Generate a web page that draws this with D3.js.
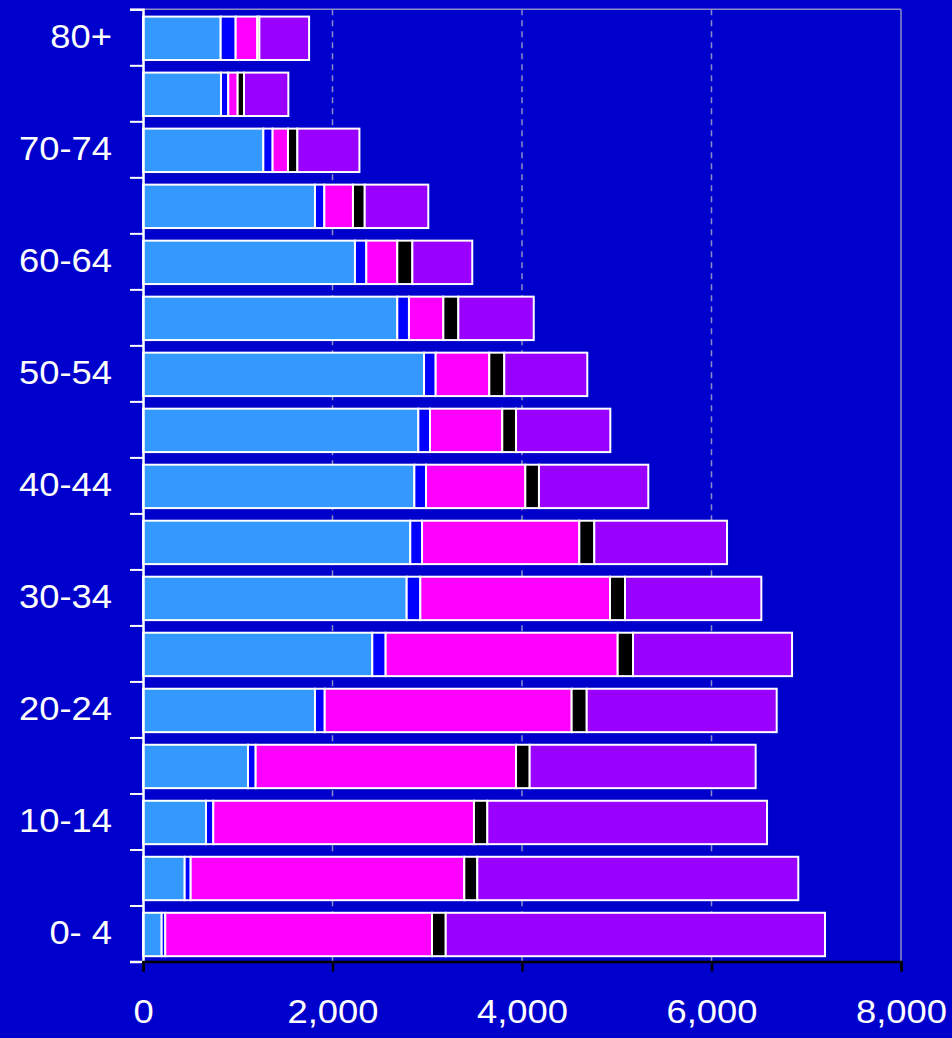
<!DOCTYPE html>
<html>
<head>
<meta charset="utf-8">
<script src="https://cdn.jsdelivr.net/npm/d3@7"></script>
<style>
  html, body { margin: 0; padding: 0; background: #0000CC; }
  svg { display: block; }
</style>
</head>
<body>
<svg id="chart" width="952" height="1038"></svg>
<script>
// Age groups, bottom to top
const categories = ["0- 4","5-9","10-14","15-19","20-24","25-29","30-34","35-39","40-44","45-49","50-54","55-59","60-64","65-69","70-74","75-79","80+"];
// Series (stack order left to right)
const seriesNames = ["Series A","Series B","Series C","Series D","Series E"];
const seriesA = [197, 440, 665, 1108, 1815, 2420, 2783, 2821, 2864, 2906, 2966, 2684, 2237, 1815, 1270, 823, 820];
const seriesB = [38, 63, 77, 81, 103, 141, 144, 124, 123, 123, 123, 123, 120, 99, 98, 77, 158];
const seriesC = [2815, 2888, 2751, 2748, 2606, 2449, 2002, 1660, 1048, 763, 566, 363, 327, 302, 162, 99, 228];
const seriesD = [145, 137, 141, 144, 159, 162, 158, 158, 144, 145, 158, 158, 159, 124, 99, 67, 22];
const seriesE = [4003, 3388, 2952, 2385, 2005, 1678, 1439, 1401, 1154, 995, 876, 796, 632, 671, 655, 468, 525];
const xTicks = [0, 2000, 4000, 6000, 8000];
const colors = ["#3399FF", "#0000FF", "#FF00FF", "#000000", "#9900FF"];

const svg = d3.select("#chart");
const pLeft = 143, pRight = 901, pTop = 9.3, pBottom = 961.5;

const x = d3.scaleLinear().domain([0, 8000]).range([pLeft, pRight]);
const y = d3.scaleBand().domain(categories).range([pBottom, pTop]).paddingInner(0.225).paddingOuter(0.1125);
const yLin = d3.scaleLinear().domain([0, categories.length]).range([pBottom, pTop]);

const rows = categories.map((c, i) => ({cat: c, A: seriesA[i], B: seriesB[i], C: seriesC[i], D: seriesD[i], E: seriesE[i]}));
const stack = d3.stack().keys(["A","B","C","D","E"])(rows);

// top and right frame lines
svg.append("line").attr("x1", pLeft).attr("x2", pRight).attr("y1", pTop).attr("y2", pTop)
  .attr("stroke", "#8C8CC8").attr("stroke-width", 1.5);
svg.append("line").attr("x1", pRight).attr("x2", pRight).attr("y1", pTop).attr("y2", pBottom)
  .attr("stroke", "#8C8CC8").attr("stroke-width", 1.5);

// gridlines
svg.append("g").selectAll("line").data([2000, 4000, 6000]).join("line")
  .attr("x1", d => x(d)).attr("x2", d => x(d)).attr("y1", pTop).attr("y2", pBottom)
  .attr("stroke", "#8C8CC8").attr("stroke-width", 1.5).attr("stroke-dasharray", "6,5");

// bars
svg.append("g").selectAll("g").data(stack).join("g")
  .attr("fill", (d, i) => colors[i])
  .selectAll("rect").data(d => d).join("rect")
  .attr("x", d => x(d[0]))
  .attr("width", d => Math.max(0, x(d[1]) - x(d[0])))
  .attr("y", d => y(d.data.cat) + 1)
  .attr("height", y.bandwidth())
  .attr("stroke", "#FFFFFF").attr("stroke-width", 2);

// y axis boundary ticks
const yTickAxis = d3.axisLeft(yLin).tickValues(d3.range(0, categories.length + 1)).tickSize(13).tickFormat("");
const gy = svg.append("g").attr("transform", `translate(${pLeft},0)`).call(yTickAxis);
gy.selectAll("line").attr("stroke", "#FFFFFF").attr("stroke-width", 2);
gy.select(".domain").attr("stroke", "#FFFFFF").attr("stroke-width", 2.5);

// y labels
const yLabAxis = d3.axisLeft(y).tickSize(0).tickPadding(0)
  .tickFormat((d, i) => i % 2 === 0 ? d : "");
const gyl = svg.append("g").attr("transform", `translate(${pLeft - 31},0)`).call(yLabAxis);
gyl.select(".domain").remove();
gyl.selectAll("text").attr("fill", "#FFFFFF")
  .attr("font-family", "'Liberation Sans', Arial, sans-serif").attr("font-size", 33.5)
  .attr("x", 0).attr("transform", "scale(1.085,1)");

// x axis
const xAxis = d3.axisBottom(x).tickValues(xTicks).tickSize(10).tickPadding(28).tickFormat(d3.format(","));
const gx = svg.append("g").attr("transform", `translate(0,${pBottom})`).call(xAxis);
gx.select(".domain").attr("stroke", "#000000").attr("stroke-width", 2.5);
gx.selectAll("line").attr("stroke", "#000000").attr("stroke-width", 2.5);
gx.selectAll("text").attr("fill", "#FFFFFF")
  .attr("font-family", "'Liberation Sans', Arial, sans-serif").attr("font-size", 33.5)
  .attr("transform", "scale(1.085,1)");
</script>
</body>
</html>
